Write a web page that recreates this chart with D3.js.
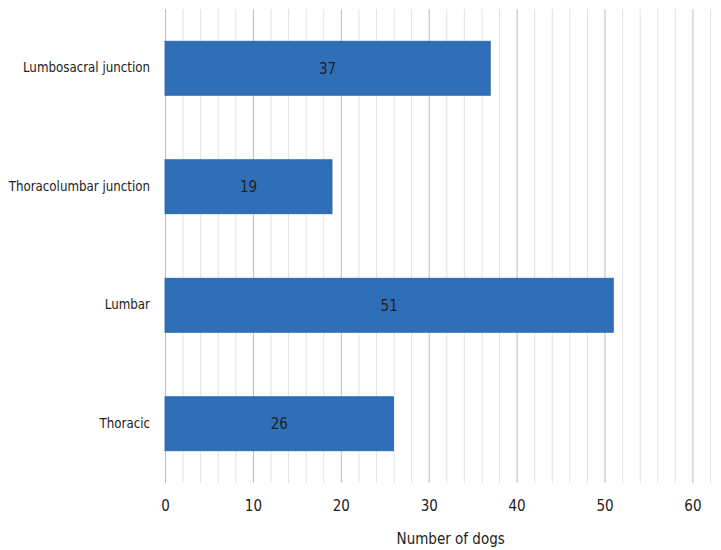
<!DOCTYPE html>
<html>
<head>
<meta charset="utf-8">
<script src="https://cdn.jsdelivr.net/npm/d3@7"></script>
<style>
  body { margin: 0; background: #fff; }
  text { font-family: "Liberation Sans Narrow", "DejaVu Sans Condensed", "Open Sans", sans-serif; fill: #222; }
</style>
</head>
<body>
<div id="chart"></div>
<script>
// DATA
const categories = ["Lumbosacral junction", "Thoracolumbar junction", "Lumbar", "Thoracic"]
const dogCounts = [37, 19, 51, 26]
const xTicks = [0, 10, 20, 30, 40, 50, 60]
const xTitle = "Number of dogs"

const width = 721
const height = 550
const margin = {top: 9, right: 11, bottom: 67, left: 165}

const svg = d3.select("#chart")
    .append("svg")
    .attr("width", width)
    .attr("height", height)

// SCALES
const xScale = d3.scaleLinear()
    .domain([0, 62])
    .range([margin.left, width - margin.right])

const yScale = d3.scaleBand()
    .domain(categories)
    .range([margin.top, height - margin.bottom])
    .paddingInner(0.544)
    .paddingOuter(0.272)

// GRIDLINES (minor every 2, major every 10)
svg.append("g")
    .selectAll("line")
    .data(d3.range(0, 63, 2))
    .join("line")
    .attr("x1", d => xScale(d) + 0.5)
    .attr("x2", d => xScale(d) + 0.5)
    .attr("y1", margin.top)
    .attr("y2", height - margin.bottom)
    .attr("stroke", d => d % 10 === 0 ? "#bdbdbd" : "#e2e2e2")
    .attr("stroke-width", 1)

// BARS
svg.append("g")
    .selectAll("rect")
    .data(categories)
    .join("rect")
    .attr("x", xScale(0))
    .attr("y", d => yScale(d))
    .attr("width", (d, i) => xScale(dogCounts[i]) - xScale(0))
    .attr("height", yScale.bandwidth())
    .attr("fill", "#2e6fb7")
    .attr("stroke", "#2963a6")
    .attr("stroke-width", 0.8)

// VALUE LABELS
svg.append("g")
    .selectAll("text")
    .data(categories)
    .join("text")
    .attr("x", (d, i) => (xScale(0) + xScale(dogCounts[i])) / 2)
    .attr("y", d => yScale(d) + yScale.bandwidth() / 2)
    .attr("dy", "0.35em")
    .attr("text-anchor", "middle")
    .attr("font-size", 15)
    .text((d, i) => dogCounts[i])

// CATEGORY LABELS
const yAxis = d3.axisLeft(yScale).tickSize(0).tickPadding(15)
svg.append("g")
    .attr("transform", `translate(${margin.left}, 0)`)
    .call(yAxis)
    .call(g => g.select(".domain").remove())
    .selectAll("text")
    .attr("font-size", 13.2)

// X AXIS
const xAxis = d3.axisBottom(xScale).tickValues(xTicks).tickSize(0).tickPadding(17)
svg.append("g")
    .attr("transform", `translate(0, ${height - margin.bottom})`)
    .call(xAxis)
    .call(g => g.select(".domain").remove())
    .selectAll("text")
    .attr("font-size", 15)

svg.selectAll(".tick text").attr("font-family", null)

svg.append("text")
    .attr("x", xScale(32.5))
    .attr("y", 544)
    .attr("text-anchor", "middle")
    .attr("font-size", 15)
    .text(xTitle)
</script>
</body>
</html>
